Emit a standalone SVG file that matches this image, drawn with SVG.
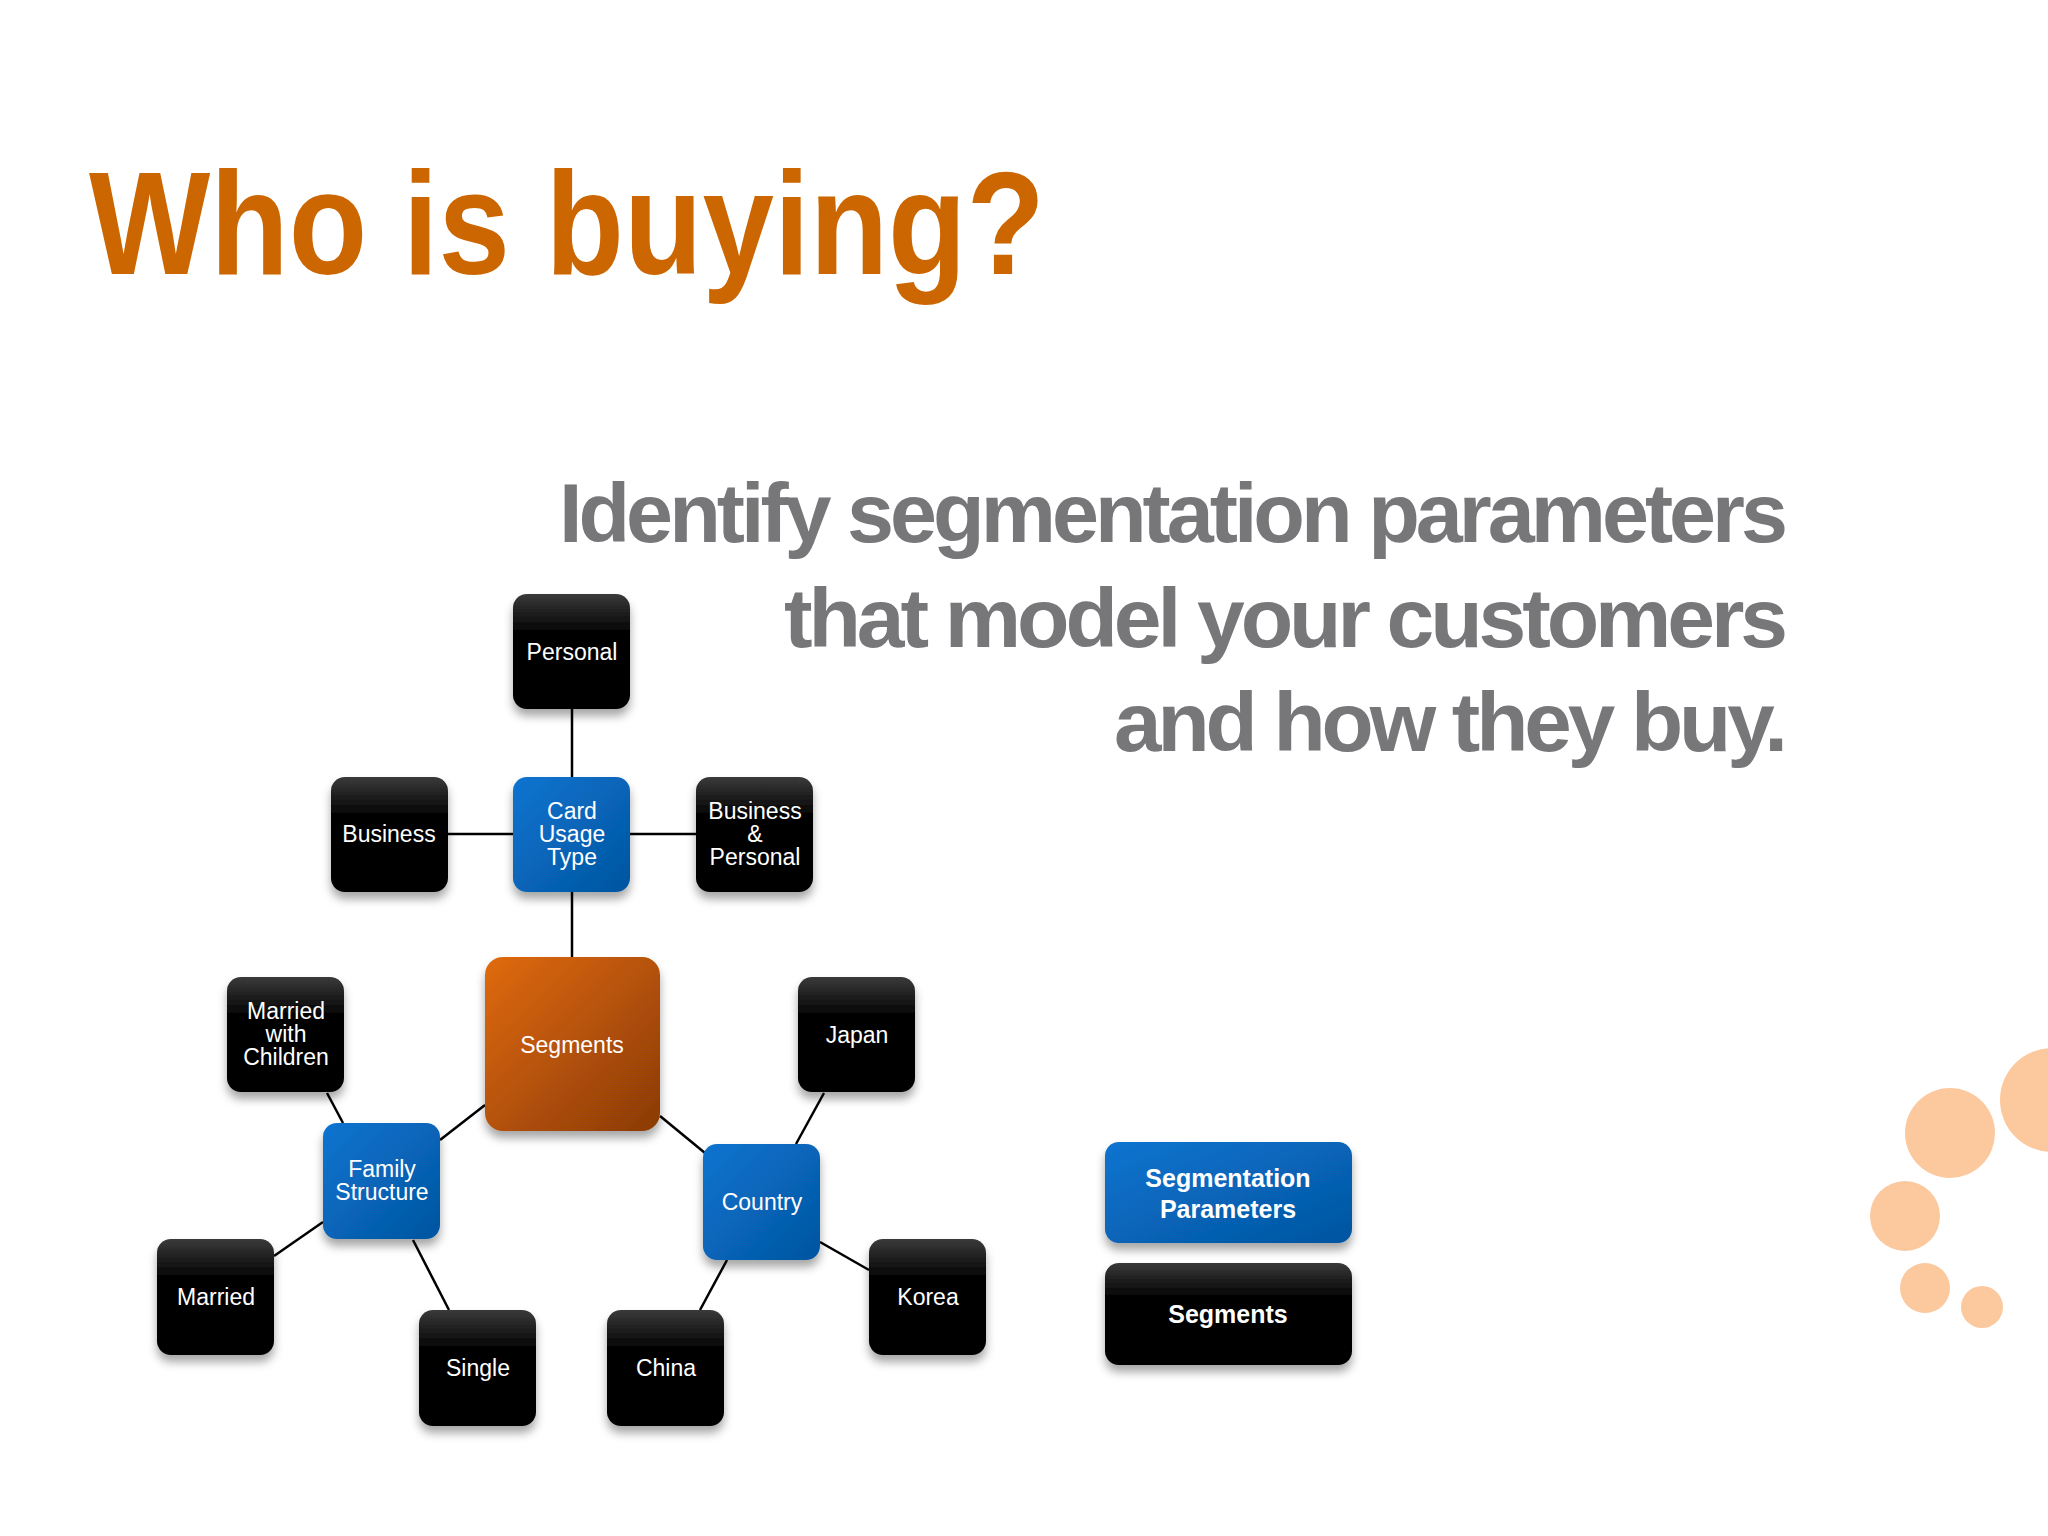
<svg xmlns="http://www.w3.org/2000/svg" width="2048" height="1536" viewBox="0 0 2048 1536">
<defs>
<linearGradient id="gk" x1="0" y1="0" x2="0" y2="1"><stop offset="0" stop-color="#3a3a3a"/><stop offset="0.35" stop-color="#000"/><stop offset="1" stop-color="#000"/></linearGradient>
<linearGradient id="gb" x1="0" y1="0" x2="1" y2="1"><stop offset="0" stop-color="#0a74d0"/><stop offset="1" stop-color="#0455a0"/></linearGradient>
<linearGradient id="go" x1="0" y1="0" x2="1" y2="1"><stop offset="0" stop-color="#e06a08"/><stop offset="1" stop-color="#8a3a06"/></linearGradient>
<filter id="sh" x="-20%" y="-20%" width="140%" height="150%"><feDropShadow dx="0" dy="7" stdDeviation="5" flood-color="#000" flood-opacity="0.35"/></filter>
<style>
.k{fill:url(#gk);filter:url(#sh)}
.b{fill:url(#gb);filter:url(#sh)}
.o{fill:url(#go);filter:url(#sh)}
.t{font-family:"Liberation Sans",Arial,sans-serif;font-size:23px;fill:#fff;text-anchor:middle}
.tb{font-family:"Liberation Sans",Arial,sans-serif;font-size:25px;font-weight:bold;fill:#fff;text-anchor:middle}
.sub{font-family:"Liberation Sans",Arial,sans-serif;font-size:84px;font-weight:bold;fill:#77777a;text-anchor:end;letter-spacing:-4px}
.c{stroke:#000;stroke-width:2.5;fill:none}
.dot{fill:#fcc89e}
</style>
</defs>
<rect width="2048" height="1536" fill="#fff"/>
<text x="89" y="274" font-family="Liberation Sans,Arial,sans-serif" font-size="146" font-weight="bold" fill="#cc6600" textLength="956" lengthAdjust="spacingAndGlyphs">Who is buying?</text>
<text class="sub" x="1784" y="542" textLength="1225" lengthAdjust="spacingAndGlyphs">Identify segmentation parameters</text>
<text class="sub" x="1784" y="647" textLength="1000" lengthAdjust="spacingAndGlyphs">that model your customers</text>
<text class="sub" x="1784" y="751" textLength="670" lengthAdjust="spacingAndGlyphs">and how they buy.</text>
<g id="dots">
<circle class="dot" cx="1950" cy="1133" r="45"/>
<circle class="dot" cx="2052" cy="1100" r="52"/>
<circle class="dot" cx="1905" cy="1216" r="35"/>
<circle class="dot" cx="1925" cy="1288" r="25"/>
<circle class="dot" cx="1982" cy="1307" r="21"/>
</g>
<g id="connectors">
<line class="c" x1="572" y1="709" x2="572" y2="777"/>
<line class="c" x1="448" y1="834" x2="513" y2="834"/>
<line class="c" x1="630" y1="834" x2="696" y2="834"/>
<line class="c" x1="572" y1="892" x2="572" y2="957"/>
<line class="c" x1="485" y1="1105" x2="440" y2="1140"/>
<line class="c" x1="660" y1="1116" x2="705" y2="1153"/>
<line class="c" x1="327" y1="1093" x2="343" y2="1123"/>
<line class="c" x1="323" y1="1222" x2="274" y2="1256"/>
<line class="c" x1="413" y1="1240" x2="449" y2="1310"/>
<line class="c" x1="824" y1="1093" x2="796" y2="1144"/>
<line class="c" x1="820" y1="1242" x2="869" y2="1270"/>
<line class="c" x1="727" y1="1260" x2="700" y2="1310"/>
</g>
<g id="personal"><rect class="k" x="513" y="594" width="117" height="115" rx="14"/><text class="t" x="572" y="660">Personal</text></g>
<g id="card"><rect class="b" x="513" y="777" width="117" height="115" rx="14"/><text class="t" x="572" y="819">Card</text><text class="t" x="572" y="842">Usage</text><text class="t" x="572" y="865">Type</text></g>
<g id="business"><rect class="k" x="331" y="777" width="117" height="115" rx="14"/><text class="t" x="389" y="842">Business</text></g>
<g id="bizpersonal"><rect class="k" x="696" y="777" width="117" height="115" rx="14"/><text class="t" x="755" y="819">Business</text><text class="t" x="755" y="842">&amp;</text><text class="t" x="755" y="865">Personal</text></g>
<g id="segments"><rect class="o" x="485" y="957" width="175" height="174" rx="18"/><text class="t" x="572" y="1053" font-size="31">Segments</text></g>
<g id="mwc"><rect class="k" x="227" y="977" width="117" height="115" rx="14"/><text class="t" x="286" y="1019">Married</text><text class="t" x="286" y="1042">with</text><text class="t" x="286" y="1065">Children</text></g>
<g id="family"><rect class="b" x="323" y="1123" width="117" height="116" rx="14"/><text class="t" x="382" y="1177">Family</text><text class="t" x="382" y="1200">Structure</text></g>
<g id="married"><rect class="k" x="157" y="1239" width="117" height="116" rx="14"/><text class="t" x="216" y="1305">Married</text></g>
<g id="single"><rect class="k" x="419" y="1310" width="117" height="116" rx="14"/><text class="t" x="478" y="1376">Single</text></g>
<g id="china"><rect class="k" x="607" y="1310" width="117" height="116" rx="14"/><text class="t" x="666" y="1376">China</text></g>
<g id="country"><rect class="b" x="703" y="1144" width="117" height="116" rx="14"/><text class="t" x="762" y="1210">Country</text></g>
<g id="japan"><rect class="k" x="798" y="977" width="117" height="115" rx="14"/><text class="t" x="857" y="1043">Japan</text></g>
<g id="korea"><rect class="k" x="869" y="1239" width="117" height="116" rx="14"/><text class="t" x="928" y="1305">Korea</text></g>
<g id="legend-params"><rect class="b" x="1105" y="1142" width="247" height="101" rx="14"/><text class="tb" x="1228" y="1187">Segmentation</text><text class="tb" x="1228" y="1218">Parameters</text></g>
<g id="legend-segments"><rect class="k" x="1105" y="1263" width="247" height="102" rx="14"/><text class="tb" x="1228" y="1323">Segments</text></g>
</svg>
